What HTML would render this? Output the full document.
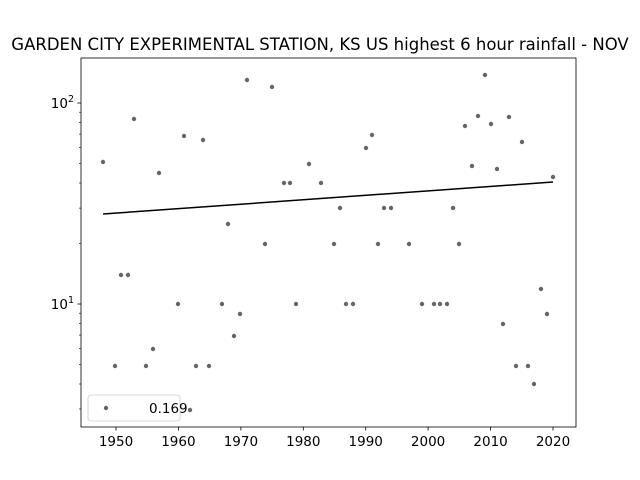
<!DOCTYPE html>
<html><head><meta charset="utf-8"><style>
html,body{margin:0;padding:0;background:#fff;}
svg{display:block;font-family:"DejaVu Sans","Liberation Sans",sans-serif;}
</style></head><body>
<svg width="640" height="480" viewBox="0 0 640 480" xmlns="http://www.w3.org/2000/svg">
<rect width="640" height="480" fill="#fff"/>
<text x="320" y="50" font-size="16.5" text-anchor="middle" fill="#000">GARDEN CITY EXPERIMENTAL STATION, KS US highest 6 hour rainfall - NOV</text>
<g fill="#000" fill-opacity="0.6">
<circle cx="103" cy="162" r="2.2"/><circle cx="115" cy="366" r="2.2"/><circle cx="121" cy="275" r="2.2"/><circle cx="128" cy="275" r="2.2"/><circle cx="134" cy="119" r="2.2"/><circle cx="146" cy="366" r="2.2"/><circle cx="153" cy="349" r="2.2"/><circle cx="159" cy="173" r="2.2"/><circle cx="178" cy="304" r="2.2"/><circle cx="184" cy="136" r="2.2"/><circle cx="190" cy="410" r="2.2"/><circle cx="196" cy="366" r="2.2"/><circle cx="203" cy="140" r="2.2"/><circle cx="209" cy="366" r="2.2"/><circle cx="222" cy="304" r="2.2"/><circle cx="228" cy="224" r="2.2"/><circle cx="234" cy="336" r="2.2"/><circle cx="240" cy="314" r="2.2"/><circle cx="247" cy="80" r="2.2"/><circle cx="265" cy="244" r="2.2"/><circle cx="272" cy="87" r="2.2"/><circle cx="284" cy="183" r="2.2"/><circle cx="290" cy="183" r="2.2"/><circle cx="296" cy="304" r="2.2"/><circle cx="309" cy="164" r="2.2"/><circle cx="321" cy="183" r="2.2"/><circle cx="334" cy="244" r="2.2"/><circle cx="340" cy="208" r="2.2"/><circle cx="346" cy="304" r="2.2"/><circle cx="353" cy="304" r="2.2"/><circle cx="366" cy="148" r="2.2"/><circle cx="372" cy="135" r="2.2"/><circle cx="378" cy="244" r="2.2"/><circle cx="384" cy="208" r="2.2"/><circle cx="391" cy="208" r="2.2"/><circle cx="409" cy="244" r="2.2"/><circle cx="422" cy="304" r="2.2"/><circle cx="434" cy="304" r="2.2"/><circle cx="440" cy="304" r="2.2"/><circle cx="447" cy="304" r="2.2"/><circle cx="453" cy="208" r="2.2"/><circle cx="459" cy="244" r="2.2"/><circle cx="465" cy="126" r="2.2"/><circle cx="472" cy="166" r="2.2"/><circle cx="478" cy="116" r="2.2"/><circle cx="485" cy="75" r="2.2"/><circle cx="491" cy="124" r="2.2"/><circle cx="497" cy="169" r="2.2"/><circle cx="503" cy="324" r="2.2"/><circle cx="509" cy="117" r="2.2"/><circle cx="516" cy="366" r="2.2"/><circle cx="522" cy="142" r="2.2"/><circle cx="528" cy="366" r="2.2"/><circle cx="534" cy="384" r="2.2"/><circle cx="541" cy="289" r="2.2"/><circle cx="547" cy="314" r="2.2"/><circle cx="553" cy="177" r="2.2"/>
</g>
<line x1="103" y1="214" x2="553" y2="182" stroke="#000" stroke-width="1.5"/>
<rect x="81" y="58" width="495" height="369" fill="none" stroke="#000" stroke-width="0.8"/>
<g stroke="#000" stroke-width="0.8">
<line x1="116" y1="427" x2="116" y2="430.5"/><line x1="178.4" y1="427" x2="178.4" y2="430.5"/><line x1="240.9" y1="427" x2="240.9" y2="430.5"/><line x1="303.3" y1="427" x2="303.3" y2="430.5"/><line x1="365.7" y1="427" x2="365.7" y2="430.5"/><line x1="428.1" y1="427" x2="428.1" y2="430.5"/><line x1="490.6" y1="427" x2="490.6" y2="430.5"/><line x1="553" y1="427" x2="553" y2="430.5"/>
<line x1="77.5" y1="304" x2="81" y2="304"/><line x1="77.5" y1="103" x2="81" y2="103"/>
</g>
<g stroke="#000" stroke-width="0.6">
<line x1="79" y1="409" x2="81" y2="409"/><line x1="79" y1="384" x2="81" y2="384"/><line x1="79" y1="364.5" x2="81" y2="364.5"/><line x1="79" y1="348.6" x2="81" y2="348.6"/><line x1="79" y1="335.1" x2="81" y2="335.1"/><line x1="79" y1="323.5" x2="81" y2="323.5"/><line x1="79" y1="313.2" x2="81" y2="313.2"/>
<line x1="79" y1="243.5" x2="81" y2="243.5"/><line x1="79" y1="208.1" x2="81" y2="208.1"/><line x1="79" y1="183" x2="81" y2="183"/><line x1="79" y1="163.5" x2="81" y2="163.5"/><line x1="79" y1="147.6" x2="81" y2="147.6"/><line x1="79" y1="134.1" x2="81" y2="134.1"/><line x1="79" y1="122.5" x2="81" y2="122.5"/><line x1="79" y1="112.2" x2="81" y2="112.2"/>
</g>
<g font-size="13.5" fill="#000" text-anchor="middle">
<text x="116" y="446">1950</text><text x="178.4" y="446">1960</text><text x="240.9" y="446">1970</text><text x="303.3" y="446">1980</text><text x="365.7" y="446">1990</text><text x="428.1" y="446">2000</text><text x="490.6" y="446">2010</text><text x="553" y="446">2020</text>
</g>
<g font-size="13.5" fill="#000" text-anchor="end">
<text x="74" y="309">10<tspan font-size="9.5" dy="-6">1</tspan></text>
<text x="74" y="108">10<tspan font-size="9.5" dy="-6">2</tspan></text>
</g>
<rect x="88" y="395" width="92" height="26" rx="3" fill="#fff" fill-opacity="0.8" stroke="#ccc" stroke-width="0.8"/>
<circle cx="106" cy="408" r="2.2" fill="#000" fill-opacity="0.6"/>
<text x="149" y="413" font-size="13.5" fill="#000">0.169</text>
</svg>
</body></html>
